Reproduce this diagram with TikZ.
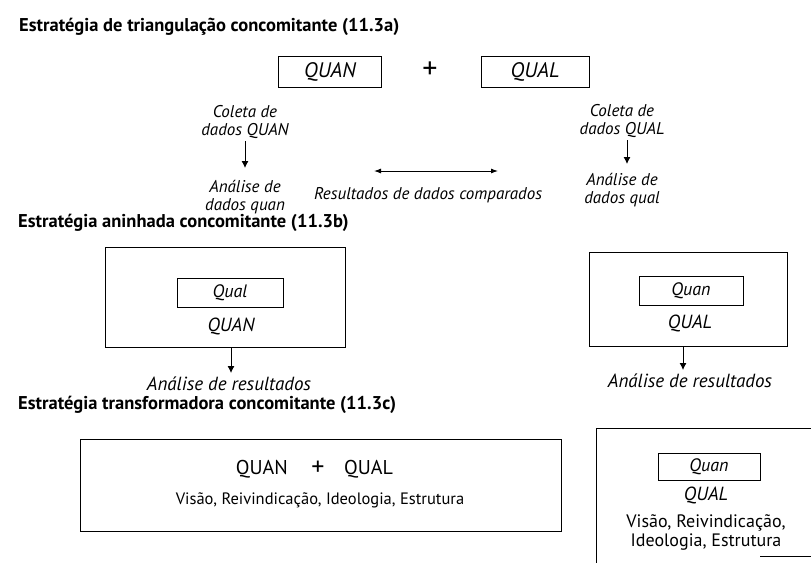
\documentclass[tikz,border=0pt]{standalone}
\usepackage{fontspec}
\setmainfont{PT Sans}
\usetikzlibrary{arrows.meta}
\tikzset{
  ttl/.style={font=\bfseries\fontsize{18.5}{20}\selectfont, anchor=west, inner sep=0pt},
  lbl/.style={font=\itshape\fontsize{17}{18}\selectfont, align=center, inner sep=0pt},
  lblbig/.style={font=\itshape\fontsize{19}{20}\selectfont, align=center, inner sep=0pt},
  lblup/.style={font=\fontsize{16.5}{18}\selectfont, align=center, inner sep=0pt},
  boxa/.style={draw, line width=0.8pt, inner sep=0pt, font=\itshape\fontsize{21}{23}\selectfont},
  boxs/.style={draw, line width=0.8pt, inner sep=0pt, font=\itshape\fontsize{18}{20}\selectfont},
  bigbox/.style={draw, line width=0.8pt, inner sep=0pt},
  arr/.style={line width=0.9pt, -{Latex[length=7pt,width=7pt]}},
  darr/.style={line width=0.9pt, {Latex[length=7pt,width=5pt]}-{Latex[length=7pt,width=5pt]}},
  plusnode/.style={font=\fontsize{30}{30}\selectfont, inner sep=0pt},
  capsup/.style={font=\fontsize{20}{22}\selectfont, inner sep=0pt}
}
\begin{document}
\begin{tikzpicture}[x=1pt,y=-1pt]
\useasboundingbox (0,0) rectangle (811,563);
\fill[white] (0,0) rectangle (811,563);

% ---------- 11.3a ----------
\node[ttl] (t1) at (19,27) {Estratégia de triangulação concomitante (11.3a)};
\node[boxa, minimum width=103pt, minimum height=31pt] (quan) at (330,72) {QUAN};
\node[plusnode] (plus) at (430,70) {+};
\node[boxa, minimum width=108pt, minimum height=31pt] (qual) at (535,72) {QUAL};

\node[lbl] (colL) at (245,122) {Coleta de\\dados QUAN};
\node[lbl] (anaL) at (245,197) {Análise de\\dados quan};
\draw[arr] (245,141) -- (245,168);

\node[lbl] (colR) at (622,121) {Coleta de\\dados QUAL};
\node[lbl] (anaR) at (622,190) {Análise de\\dados qual};
\draw[arr] (627,140) -- (627,164);

\node[lbl] (res) at (428,195) {Resultados de dados comparados};
\coordinate (dA) at (374,171);
\coordinate (dB) at (498,171);
\draw[darr] (dA) -- (dB);

% ---------- 11.3b ----------
\node[ttl] (t2) at (18,223) {Estratégia aninhada concomitante (11.3b)};
\node[bigbox, minimum width=240pt, minimum height=100pt] (bL) at (225,297) {};
\node[boxs, minimum width=106pt, minimum height=29pt] (iL) at (230,293) {Qual};
\node[lblbig] (qL) at (231,326) {QUAN};
\node[lblbig] (rL) at (229,384) {Análise de resultados};
\draw[arr] (bL.south -| 231,0) -- (231,373);

\node[bigbox, minimum width=198pt, minimum height=94pt] (bR) at (688,299) {};
\node[boxs, minimum width=104pt, minimum height=29pt] (iR) at (691,291) {Quan};
\node[lblbig] (qR) at (690,323) {QUAL};
\node[lblbig] (rR) at (690,381) {Análise de resultados};
\draw[arr] (bR.south -| 683,0) -- (683,370);

% ---------- 11.3c ----------
\node[ttl] (t3) at (18,405) {Estratégia transformadora concomitante (11.3c)};
\node[bigbox, minimum width=481pt, minimum height=92pt] (bC) at (320.5,485) {};
\node[capsup, anchor=east] (qnC) at (288,469) {QUAN};
\node[plusnode, font=\fontsize{26}{26}\selectfont] (plC) at (318,468) {+};
\node[capsup, anchor=west] (qlC) at (344,469) {QUAL};
\node[lblup] (vC) at (320,500) {Visão, Reivindicação, Ideologia, Estrutura};

\coordinate (pTR) at (811,428);
\coordinate (pTL) at (596,428);
\coordinate (pBL) at (596,563);
\coordinate (pB1) at (760,556);
\coordinate (pB2) at (811,556);
\draw[line width=0.8pt] (pTR) -- (pTL) -- (pBL);
\draw[line width=0.8pt] (pB1) -- (pB2);
\node[boxs, minimum width=102pt, minimum height=27pt] (iD) at (709,467) {Quan};
\node[lblbig] (qD) at (706,495) {QUAL};
\node[lblup, font=\fontsize{18}{19}\selectfont] (vD) at (706,532) {Visão, Reivindicação,\\Ideologia, Estrutura};
\end{tikzpicture}
\end{document}
